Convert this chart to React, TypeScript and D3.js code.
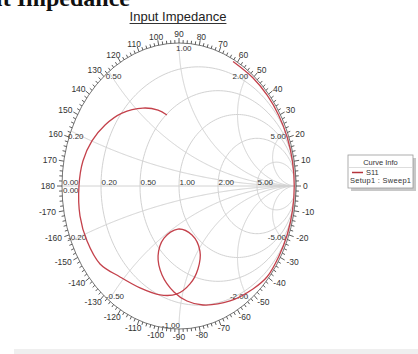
import * as d3 from "d3";
import { useEffect, useRef } from "react";

const W = 418;
const H = 354;

// grid values of the Smith chart
const resistanceValues = [0.2, 0.5, 1, 2, 5];
const reactanceValues = [0.2, 0.5, 1, 2, 5, -0.2, -0.5, -1, -2, -5];
const resistanceLabels = ["0.20", "0.50", "1.00", "2.00", "5.00"];
const angleLabels = [
  0, 10, 20, 30, 40, 50, 60, 70, 80, 90, 100, 110, 120, 130, 140, 150, 160,
  170, 180, -10, -20, -30, -40, -50, -60, -70, -80, -90, -100, -110, -120,
  -130, -140, -150, -160, -170,
];

// S11 trace, reflection coefficient (real / imaginary), low -> high freq
const s11Re = [
  0.462, 0.633, 0.755, 0.853, 0.926, 0.97, 0.985, 0.97, 0.926, 0.853, 0.755,
  0.632, 0.436, 0.205, 0.068, -0.043, -0.145, -0.179, -0.128, -0.009, 0.111,
  0.179, 0.162, 0.094, -0.017, -0.162, -0.333, -0.504, -0.675, -0.786,
  -0.846, -0.855, -0.821, -0.744, -0.632, -0.487, -0.308, -0.179, -0.103,
];
const s11Im = [
  0.87, 0.755, 0.633, 0.493, 0.337, 0.171, 0, -0.171, -0.337, -0.493, -0.633,
  -0.72, -0.804, -0.832, -0.804, -0.741, -0.622, -0.49, -0.364, -0.301,
  -0.343, -0.455, -0.58, -0.685, -0.755, -0.762, -0.713, -0.636, -0.545,
  -0.385, -0.21, 0, 0.175, 0.315, 0.427, 0.51, 0.545, 0.531, 0.497,
];

const FONT = "'Liberation Sans', Arial, sans-serif";

function SmithChart() {
  const ref = useRef<SVGSVGElement>(null);

  useEffect(() => {
    if (!ref.current) return;
    const svg = d3.select(ref.current);
    svg.selectAll("*").remove();

    const cx = 179,
      cy = 186,
      rx = 117,
      ry = 143;
    const x = d3.scaleLinear().domain([-1, 1]).range([cx - rx, cx + rx]);
    const y = d3.scaleLinear().domain([-1, 1]).range([cy + ry, cy - ry]);
    const line = d3
      .line<[number, number]>()
      .x((d) => x(d[0]))
      .y((d) => y(d[1]));

    // page heading, cut off at the top
    svg
      .append("text")
      .attr("x", 130)
      .attr("y", 6)
      .attr("text-anchor", "end")
      .attr("font-family", "'Liberation Serif', 'Times New Roman', serif")
      .attr("font-weight", "bold")
      .attr("font-size", 24)
      .attr("fill", "#111")
      .text("Input Impedance");

    // bottom band
    svg
      .append("rect")
      .attr("x", 14)
      .attr("y", 349)
      .attr("width", W - 14)
      .attr("height", 5)
      .attr("fill", "#efefef");

    // chart title
    const title = svg
      .append("text")
      .attr("x", 178)
      .attr("y", 21)
      .attr("text-anchor", "middle")
      .attr("font-family", FONT)
      .attr("font-size", 13)
      .attr("fill", "#222")
      .text("Input Impedance");
    const tw = (title.node() as SVGTextElement).getComputedTextLength();
    svg
      .append("line")
      .attr("x1", 178 - tw / 2)
      .attr("x2", 178 + tw / 2)
      .attr("y1", 23.5)
      .attr("y2", 23.5)
      .attr("stroke", "#333")
      .attr("stroke-width", 1);

    const grid = svg.append("g").attr("fill", "none").attr("stroke", "#d2d2d2").attr("stroke-width", 1);

    // constant resistance circles
    resistanceValues.forEach((r) => {
      const c = r / (1 + r);
      const R = 1 / (1 + r);
      const pts: [number, number][] = d3
        .range(0, 361, 2)
        .map((t) => [c + R * Math.cos((t * Math.PI) / 180), R * Math.sin((t * Math.PI) / 180)]);
      grid.append("path").attr("d", line(pts));
    });

    // constant reactance arcs
    reactanceValues.forEach((xv) => {
      const pts: [number, number][] = d3.range(0, 0.999, 0.004).map((s) => {
        const r = s / (1 - s);
        const den = (r + 1) * (r + 1) + xv * xv;
        return [(r * r - 1 + xv * xv) / den, (2 * xv) / den];
      });
      pts.push([1, 0]);
      grid.append("path").attr("d", line(pts));
    });

    // real axis
    grid
      .append("line")
      .attr("x1", x(-1))
      .attr("x2", x(1))
      .attr("y1", y(0))
      .attr("y2", y(0));

    // outer rim
    svg
      .append("ellipse")
      .attr("cx", cx)
      .attr("cy", cy)
      .attr("rx", rx)
      .attr("ry", ry)
      .attr("fill", "none")
      .attr("stroke", "#555")
      .attr("stroke-width", 0.8);

    // rim ticks
    const ticks = svg.append("g").attr("stroke", "#333").attr("stroke-width", 0.8);
    d3.range(-180, 180, 2).forEach((deg) => {
      const t = (deg * Math.PI) / 180;
      const len = deg % 10 === 0 ? 5 : 3;
      ticks
        .append("line")
        .attr("x1", cx + rx * Math.cos(t))
        .attr("y1", cy - ry * Math.sin(t))
        .attr("x2", cx + (rx + len) * Math.cos(t))
        .attr("y2", cy - (ry + len) * Math.sin(t));
    });

    // angle labels
    const labels = svg.append("g").attr("font-family", FONT).attr("font-size", 8.5).attr("fill", "#333");
    angleLabels.forEach((a) => {
      const t = (a * Math.PI) / 180;
      const txt = String(a);
      const hw = txt.length * 2.4;
      labels
        .append("text")
        .attr("x", cx + (rx + 7 + hw) * Math.cos(t))
        .attr("y", cy - (ry + 5 + 3.5) * Math.sin(t))
        .attr("dy", "0.35em")
        .attr("text-anchor", "middle")
        .text(txt);
    });

    // value labels
    const vl = svg.append("g").attr("font-family", FONT).attr("font-size", 8).attr("fill", "#333");
    resistanceValues.forEach((r, i) => {
      vl.append("text")
        .attr("x", x((r - 1) / (r + 1)) + 0.5)
        .attr("y", y(0) - 1.5)
        .text(resistanceLabels[i]);
    });
    vl.append("text").attr("x", x(-1) + 1).attr("y", y(0) - 1.5).text("0.00");
    vl.append("text").attr("x", x(-1) + 1).attr("y", y(0) + 1.5).attr("dominant-baseline", "hanging").text("0.00");

    reactanceValues.forEach((xv) => {
      const phi = Math.PI - 2 * Math.atan(xv);
      const px = x(Math.cos(phi));
      const py = y(Math.sin(phi));
      const ax = Math.abs(xv);
      const anchor = ax < 1 ? "start" : ax > 1 ? "end" : xv > 0 ? "start" : "end";
      const dx = ax < 1 ? -3 : ax > 1 ? -1 : xv > 0 ? -3 : 1;
      const t = vl
        .append("text")
        .attr("x", px + dx)
        .attr("text-anchor", anchor)
        .text(xv.toFixed(2));
      if (xv > 0) t.attr("y", py + 2).attr("dominant-baseline", "hanging");
      else t.attr("y", py - 1);
    });

    // S11 trace
    const pts: [number, number][] = s11Re.map((re, i) => [re, s11Im[i]]);
    svg
      .append("path")
      .attr("d", line.curve(d3.curveCatmullRom.alpha(0.5))(pts))
      .attr("fill", "none")
      .attr("stroke", "#c4414b")
      .attr("stroke-width", 1.3);

    // legend
    const lg = svg.append("g").attr("font-family", FONT).attr("font-size", 7.5).attr("fill", "#333");
    lg.append("rect").attr("x", 351).attr("y", 158).attr("width", 65).attr("height", 33).attr("fill", "#c8c8c8");
    lg.append("rect")
      .attr("x", 348)
      .attr("y", 155)
      .attr("width", 65)
      .attr("height", 33)
      .attr("fill", "#fff")
      .attr("stroke", "#999")
      .attr("stroke-width", 0.8);
    lg.append("text").attr("x", 380.5).attr("y", 165).attr("text-anchor", "middle").text("Curve Info");
    lg.append("line").attr("x1", 349).attr("x2", 412).attr("y1", 167.5).attr("y2", 167.5).attr("stroke", "#ddd");
    lg.append("line")
      .attr("x1", 352)
      .attr("x2", 363)
      .attr("y1", 172.5)
      .attr("y2", 172.5)
      .attr("stroke", "#b5343c")
      .attr("stroke-width", 1.5);
    lg.append("text").attr("x", 366).attr("y", 175).text("S11");
    lg.append("text").attr("x", 350).attr("y", 183).attr("textLength", 61).text("Setup1 : Sweep1");
  }, []);

  return <svg ref={ref} width={W} height={H} style={{ display: "block" }}></svg>;
}

export default function App() {
  return (
    <div style={{ position: "absolute", left: 0, top: 0, width: W, height: H, background: "#fff" }}>
      <SmithChart />
    </div>
  );
}
